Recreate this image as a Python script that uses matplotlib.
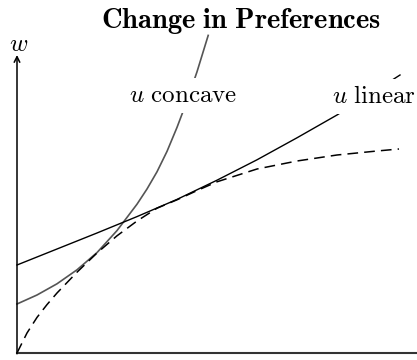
import matplotlib
matplotlib.use('Agg')
import matplotlib.pyplot as plt

plt.rcParams['mathtext.fontset'] = 'cm'

# courbes (x, w)
x_concave = [0, 0.5, 1.0, 1.5, 2.0, 2.5, 3.0, 3.25, 3.5, 3.75, 4.0, 4.25, 4.5, 4.78]
w_concave = [1.225, 1.45, 1.73, 2.08, 2.51, 3.06, 3.72, 4.1, 4.53, 5.04, 5.64, 6.3, 7.03, 7.94]

x_linear = [0, 1, 2, 3, 4, 5, 6, 7, 8, 9, 9.575]
w_linear = [2.2, 2.6, 3.0, 3.41, 3.84, 4.32, 4.83, 5.38, 5.95, 6.58, 6.95]

x_dash = [0, 0.25, 0.5, 0.75, 1.0, 1.5, 2.0, 2.5, 3.0, 3.5, 4.0, 4.5, 5.0, 6.0, 7.0, 8.0, 9.0, 9.55]
w_dash = [0, 0.5, 0.89, 1.21, 1.5, 2.02, 2.5, 2.93, 3.3, 3.62, 3.83, 4.06, 4.28, 4.6, 4.8, 4.95, 5.05, 5.1]

fig = plt.figure(figsize=(4.17, 3.6), dpi=100)
ax = fig.add_axes([0, 0, 1, 1])
ax.set_xlim(-0.425, 10)
ax.set_ylim(-0.175, 8.825)
ax.axis('off')

ax.plot(x_concave, w_concave, color='#555555', lw=1.2, zorder=2)
ax.plot(x_linear, w_linear, color='black', lw=1.0, zorder=2)
ax.plot(x_dash, w_dash, color='black', lw=1.1, dashes=(7, 4), zorder=2)

# axes
ax.plot([0, 10], [0, 0], color='#333333', lw=1.5, zorder=3)
ax.annotate('', xy=(0, 7.45), xytext=(0, -0.02),
            arrowprops=dict(arrowstyle='->', color='black', lw=1.1, shrinkA=0, shrinkB=0))
ax.text(0.03, 7.55, r'$w$', fontsize=18, ha='center', va='baseline')

box = dict(facecolor='white', edgecolor='none', pad=4)
ax.text(4.16, 6.275, r'$u\ \mathrm{concave}$', fontsize=18, ha='center', va='baseline', bbox=box, zorder=4)
ax.text(8.925, 6.24, r'$u\ \mathrm{linear}$', fontsize=18, ha='center', va='baseline', bbox=box, zorder=4)
ax.text(5.6, 8.125, r'$\mathbf{Change\ in\ Preferences}$', fontsize=20.5, ha='center', va='baseline', zorder=4)

plt.savefig('out.png', dpi=100)
